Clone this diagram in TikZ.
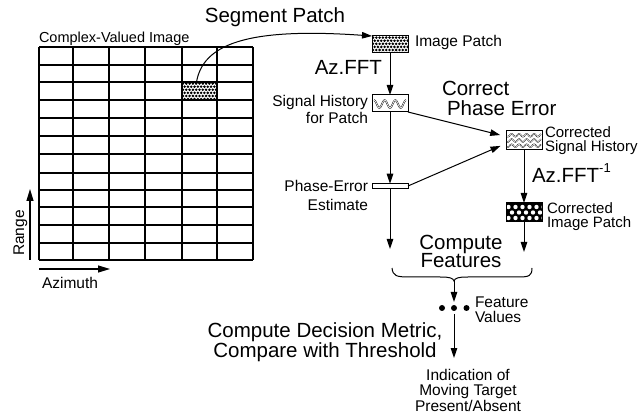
\documentclass[tikz,border=0pt]{standalone}
\usepackage{fontspec}
\setmainfont{Liberation Sans}
\usetikzlibrary{arrows.meta,calc}
\begin{document}
\begin{tikzpicture}[x=1pt,y=-1pt,
  every node/.style={inner sep=0pt, outer sep=0pt},
  big/.style={font=\fontsize{20.5}{18}\selectfont},
  lab/.style={font=\fontsize{15.5}{17}\selectfont},
  box/.style={draw, line width=1pt, minimum width=36pt, minimum height=17pt},
  arr/.style={line width=1pt, -{Triangle[length=10pt,width=6.5pt]}},
  axarr/.style={line width=1.1pt, -{Triangle[length=12pt,width=7pt]}},
  gridline/.style={line width=1.2pt},
  dotpat/.style={path picture={
    \foreach \r in {0,...,5}{\foreach \c in {0,...,11}{
      \fill ($(path picture bounding box.north west)+({\c*3.3+1.0+mod(\r,2)*1.65},{\r*3.1+1.6})$) circle (1.4pt);}}}},
  cippat/.style={fill=black, path picture={
    \foreach \r in {0,1,2}{\foreach \c in {0,...,5}{
      \fill[white] ($(path picture bounding box.north west)+({\c*7+2.5+mod(\r,2)*3.5},{\r*5.5+4})$) circle (2.2pt);}}}},
  wline/.style={line width=0.45pt, double, double distance=0.7pt}
]
\useasboundingbox (0,0) rectangle (643,414);

% grid
\foreach \gx in {39,73,109,145,182,217,253} \draw[gridline] (\gx,47) -- (\gx,260);
\foreach \gy in {47,65,82,100,118,136,154,173,190,207,225,243,260} \draw[gridline] (39,\gy) -- (253,\gy);
\node[draw, line width=1.2pt, minimum width=35pt, minimum height=18pt, dotpat] (gp) at (199.5,91) {};

% boxes
\node[box, dotpat] (ip) at (390,44.5) {};
\node[box] (sh) at (390,103.5) {};
\begin{scope}[shift={(sh.west)}]
  \clip (0.5,-8) rectangle (35.5,8);
  \draw[wline] plot[domain=2:34, samples=90, smooth] (\x,{-3.8*sin((\x-2)*360/10.67+90)+0.5});
\end{scope}
\node[draw, line width=0.8pt, minimum width=36pt, minimum height=4.5pt] (pe) at (390,186) {};
\node[box, minimum height=19pt] (csh) at (524,140.5) {};
\begin{scope}[shift={(csh.west)}]
  \clip (0.5,-9) rectangle (35.5,9);
  \foreach \o in {-5.2,0,5.2}{
    \draw[line width=0.4pt, double, double distance=0.5pt] plot[domain=1:35, samples=100, smooth] (\x,{\o+1.4*sin(\x*360/7.5)});}
\end{scope}
\node[box, minimum height=19pt, cippat] (cip) at (524,212.5) {};
\node[minimum width=30pt, minimum height=12pt] (dots) at (454,308) {};
\fill (442,308) circle (3pt) (454,308) circle (3pt) (466.5,308) circle (3pt);

% free ends
\coordinate (cf1) at (390,249);
\coordinate (cf2) at (524,252);
\coordinate (btip) at (454,281);
\coordinate (indin) at (454,358);
\coordinate (rb) at (30,260);
\coordinate (rt) at (30,189);
\coordinate (ab) at (39,269);
\coordinate (at) at (110,269);

% connectors
\draw[arr] ([xshift=-3pt]gp.north) .. controls (203,45) and (245,27) .. (ip.north west);
\draw[arr] (ip.south) -- (sh.north);
\draw[arr] (sh.south) -- (pe.north);
\draw[arr] (pe.south) -- (cf1);
\draw[arr, shorten >=6pt] (sh.south east) -- ($(csh.west)+(0,-4)$);
\draw[arr, shorten >=6pt] (pe.east) -- ($(csh.west)+(0,3)$);
\draw[arr] (csh.south) -- (cip.north);
\draw[arr] (cip.south) -- (cf2);
\draw[line width=1pt] (392,268) .. controls (393,276) and (396,277) .. (410,277) -- (440,277)
  .. controls (450,277) and (453,278) .. (btip) .. controls (455,278) and (458,277) .. (468,277)
  -- (518,277) .. controls (529,277) and (532,276) .. (532,268);
\draw[arr] (btip) -- (dots.north);
\draw[arr] (dots.south) -- (indin);
\draw[axarr] (rb) -- (rt);
\draw[axarr] (ab) -- (at);

% labels
\node[big, anchor=base] (seg) at (275,23) {Segment Patch};
\node[font=\fontsize{14.5}{15}\selectfont, anchor=base west] (cvi) at (39,42.5) {Complex-Valued Image};
\node[lab, anchor=base west] (ipl) at (415,47) {Image Patch};
\node[big, anchor=base east] (fft) at (382,75) {Az.FFT};
\node[lab, anchor=north east, align=right] (shl) at (368,95) {Signal History\\for Patch};
\node[font=\fontsize{20.5}{19.5}\selectfont, anchor=north west, align=left] (cpe) at (442,81.5) {Correct\\\hspace*{5pt}Phase Error};
\node[font=\fontsize{15}{13.7}\selectfont, anchor=north west, align=left] (cshl) at (545,127) {Corrected\\Signal History};
\node[font=\fontsize{15.5}{19}\selectfont, anchor=north east, align=right] (pel) at (368,180) {Phase-Error\\Estimate};
\node[big, anchor=base west] (fft2) at (532,183) {Az.FFT\raisebox{10pt}{\fontsize{13}{13}\selectfont -1}};
\node[font=\fontsize{15}{13.7}\selectfont, anchor=north west, align=left] (cipl) at (547,203) {Corrected\\Image Patch};
\node[font=\fontsize{20.5}{18.5}\selectfont, anchor=north, align=center] (cf) at (461,235) {Compute\\Features};
\node[font=\fontsize{15.5}{14.5}\selectfont, anchor=north west, align=left] (fv) at (475,297) {Feature\\Values};
\node[font=\fontsize{20.5}{16}\selectfont, anchor=north, align=center] (cdm) at (325,323) {Compute Decision Metric,\\Compare with Threshold};
\node[font=\fontsize{15.5}{15.5}\selectfont, anchor=north, align=center] (ind) at (468,369) {Indication of\\Moving Target\\Present/Absent};
\node[lab, rotate=90, anchor=base west] (rng) at (24,256) {Range};
\node[lab, anchor=base west] (azi) at (42,289) {Azimuth};
\end{tikzpicture}
\end{document}
